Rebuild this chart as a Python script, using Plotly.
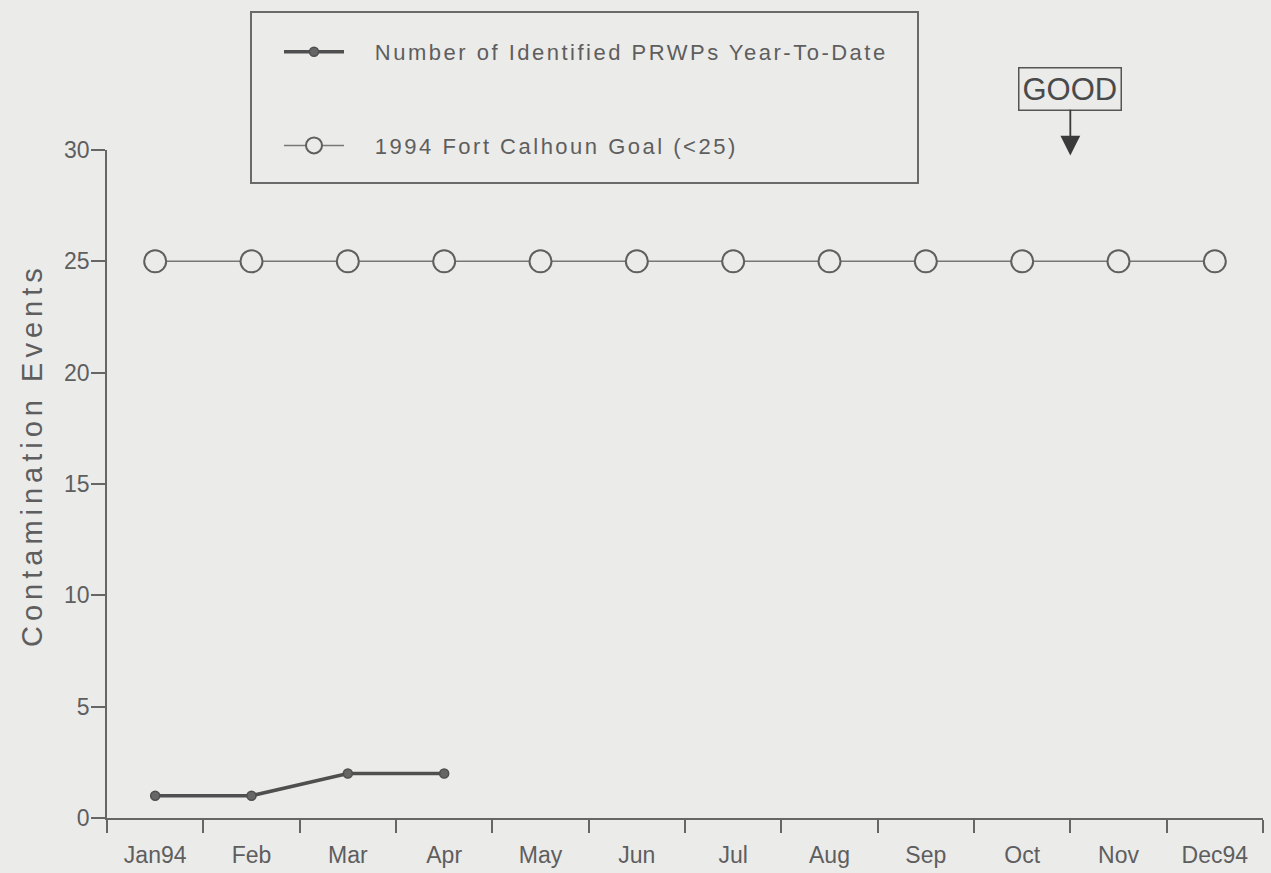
import plotly.graph_objects as go

months = ["Jan94", "Feb", "Mar", "Apr", "May", "Jun", "Jul", "Aug", "Sep", "Oct", "Nov", "Dec94"]
prwp_months = ["Jan94", "Feb", "Mar", "Apr"]
prwp_values = [1, 1, 2, 2]
goal_values = [25] * 12
y_ticks = [0, 5, 10, 15, 20, 25, 30]

W, H = 1271, 873
ml, mr, mt, mb = 107, 8, 150, 55
pw = W - ml - mr
ph = H - mt - mb

def px_x(p):
    return (p - ml) / pw

def px_y(p):
    return (H - mb - p) / ph

txt = "#5e5e5e"
ink = "#4f4f4f"
bg = "#ebebea"
sans = "Liberation Sans, Arial, Helvetica, sans-serif"
pad = "\u00a0\u00a0\u00a0"

fig = go.Figure()
fig.add_trace(go.Scatter(
    x=prwp_months, y=prwp_values, mode="lines+markers",
    name=pad + "Number of Identified PRWPs Year-To-Date",
    line=dict(color=ink, width=3.5),
    marker=dict(symbol="circle", size=9, color="#666666", line=dict(color=ink, width=1.5)),
    legendgroup="a",
))
fig.add_trace(go.Scatter(
    x=months, y=goal_values, mode="lines+markers",
    name=pad + "1994 Fort Calhoun Goal (<25)",
    line=dict(color="#777777", width=1.5),
    marker=dict(symbol="circle", size=22, color=bg, line=dict(color="#5f5f5f", width=2)),
    legendgroup="b",
))

# legend frame
fig.add_shape(type="rect", xref="paper", yref="paper",
              x0=px_x(251), x1=px_x(918), y0=px_y(183), y1=px_y(12),
              line=dict(color="#6a6a6a", width=2), fillcolor=bg, layer="below")

fig.add_annotation(
    x=9.5, y=29.75, xref="x", yref="y",
    text="GOOD", showarrow=True, ax=0, ay=-67,
    arrowhead=2, arrowsize=2.2, arrowwidth=1.8, arrowcolor="#3a3a3a",
    font=dict(size=31, color="#4a4a4a", family=sans),
    bordercolor="#555555", borderwidth=1.5, borderpad=3,
)

# y-axis title (placed as annotation so its position matches the reference)
fig.add_annotation(
    x=px_x(32), y=px_y(455), xref="paper", yref="paper",
    xanchor="center", yanchor="middle",
    text="Contamination Events", textangle=-90, showarrow=False,
    font=dict(size=29, color=txt, family=sans), name="ytitle",
)

fig.update_layout(
    width=W, height=H,
    margin=dict(l=ml, r=mr, t=mt, b=mb, autoexpand=False),
    paper_bgcolor=bg, plot_bgcolor=bg,
    font=dict(family=sans, color=txt, size=22),
    showlegend=True,
    legend=dict(
        x=px_x(279), y=px_y(31), xanchor="left", yanchor="top",
        bgcolor="rgba(0,0,0,0)", borderwidth=0,
        traceorder="grouped", tracegroupgap=62, itemwidth=60,
        font=dict(size=22, color=txt, family=sans),
    ),
    xaxis=dict(
        type="category", categoryorder="array", categoryarray=months,
        range=[-0.5, 11.5], showgrid=False, zeroline=False, automargin=False,
        showline=True, linecolor="#666666", linewidth=1.5,
        ticks="outside", tickson="boundaries", ticklen=13, tickcolor="#666666", tickwidth=1.5,
        ticklabelstandoff=16, tickfont=dict(size=23, color=txt, family=sans),
    ),
    yaxis=dict(
        range=[0, 30], tickvals=y_ticks, showgrid=False, zeroline=False, automargin=False,
        showline=True, linecolor="#666666", linewidth=1.5,
        ticks="outside", ticklen=14, tickcolor="#666666", tickwidth=1.5,
        ticklabelstandoff=-3,
        tickfont=dict(size=23, color=txt, family=sans),
    ),
)

post = (
    "document.body.style.margin='0';document.body.style.overflow='hidden';"
    "document.body.style.background='" + bg + "';"
    "document.querySelectorAll('.legend [clip-path]').forEach(function(e){e.removeAttribute('clip-path');});"
    "document.querySelectorAll('.legendtext').forEach(function(t){t.style.letterSpacing='2.5px';});"
    "document.querySelectorAll('.annotation-text').forEach(function(t){"
    "if(t.textContent.indexOf('Contamination')===0){t.style.letterSpacing='5px';}});"
)

fig.write_html("out.html", post_script=post, config={"displayModeBar": False})
